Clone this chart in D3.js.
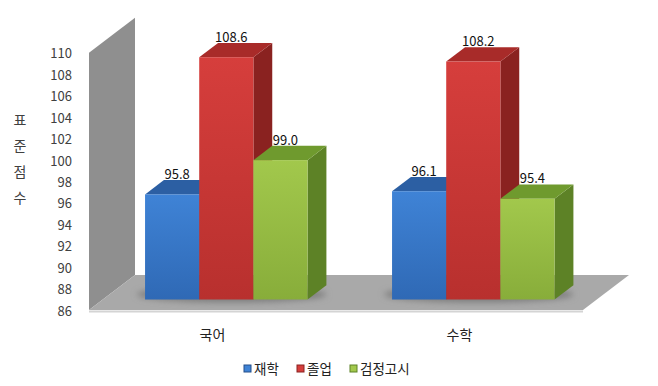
<!DOCTYPE html>
<html><head><meta charset="utf-8">
<script src="https://cdn.jsdelivr.net/npm/d3@7"></script>
<style>body{margin:0;background:#fff}svg{display:block}text{font-family:"Noto Sans CJK KR","Noto Sans",sans-serif}</style>
</head><body>
<svg id="c" width="658" height="386"></svg>
<script>
const categories = ["국어", "수학"];
const seriesNames = ["재학", "졸업", "검정고시"];
const values = {
  "재학": [95.8, 96.1],
  "졸업": [108.6, 108.2],
  "검정고시": [99.0, 95.4]
};
const tickValues = [86, 88, 90, 92, 94, 96, 98, 100, 102, 104, 106, 108, 110];
const yTitle = ["표", "준", "점", "수"];

const colors = {
  "재학": {front: ["#3f83d6", "#2f69b5"], top: "#2c5fa3", side: "#244f8a"},
  "졸업": {front: ["#d63e3c", "#b8302e"], top: "#a82b29", side: "#8a2220"},
  "검정고시": {front: ["#a2c84c", "#88ad3a"], top: "#6f9a2e", side: "#5d8226"}
};

const svg = d3.select("#c");
const defs = svg.append("defs");
seriesNames.forEach((s, i) => {
  const g = defs.append("linearGradient").attr("id", "g" + i).attr("x1", 0).attr("y1", 0).attr("x2", 0).attr("y2", 1);
  g.append("stop").attr("offset", 0).attr("stop-color", colors[s].front[0]);
  g.append("stop").attr("offset", 1).attr("stop-color", colors[s].front[1]);
});
const sh = defs.append("filter").attr("id", "blur").attr("x", -0.2).attr("y", -0.5).attr("width", 1.4).attr("height", 2);
sh.append("feGaussianBlur").attr("stdDeviation", 3);

const x0 = 89, x1 = 583, yBase = 310;
const D = [46, -35];
const y = d3.scaleLinear().domain([86, 110]).range([yBase, yBase - 24 * 10.72]);
const xb = d3.scaleBand().domain(categories).range([x0, x1]);
const xs = d3.scaleBand().domain(seriesNames).range([0, xb.bandwidth()]).paddingOuter(0.78);

const pt = (p) => p.map(q => q.join(",")).join(" ");

// wall
const yTop = y(110);
svg.append("polygon").attr("points", pt([[x0, yTop], [x0 + D[0], yTop + D[1]], [x0 + D[0], yBase + D[1]], [x0, yBase]])).attr("fill", "#8f8f8f");
// floor
svg.append("polygon").attr("points", pt([[x0, yBase], [x1, yBase], [x1 + D[0], yBase + D[1]], [x0 + D[0], yBase + D[1]]])).attr("fill", "#a9a9a9");
svg.append("line").attr("x1", x0).attr("x2", x1).attr("y1", yBase + 1.5).attr("y2", yBase + 1.5).attr("stroke", "#d4d4d4").attr("stroke-width", 2);

// axis
const axis = d3.axisLeft(y).tickValues(tickValues).tickSize(0).tickPadding(3).tickFormat(d3.format("d"));
const ag = svg.append("g").attr("transform", "translate(75,1)").call(axis);
ag.select(".domain").remove();
ag.selectAll("text").attr("font-size", 13).attr("fill", "#404040");

// y title
svg.append("g").selectAll("text").data(yTitle).join("text")
  .attr("x", 20).attr("y", (d, i) => 125 + i * 26).attr("text-anchor", "middle")
  .attr("font-size", 14).attr("fill", "#404040").text(d => d);

// bars
const d0 = 0.3, dd = 0.41;
const ox = D[0] * d0, oy = D[1] * d0;
const bx = D[0] * dd, by = D[1] * dd;
const bars = [];
categories.forEach((c, ci) => seriesNames.forEach((s, si) => bars.push({c, s, si, v: values[s][ci]})));

const bg = svg.append("g");
// shadows
categories.forEach(c => {
  const xl = xb(c) + xs(seriesNames[0]) + ox, xr = xb(c) + xs(seriesNames[2]) + xs.bandwidth() + ox + bx;
  bg.append("ellipse").attr("cx", (xl + xr) / 2 - 4).attr("cy", yBase + oy + by / 2 + 2).attr("rx", (xr - xl) / 2 + 4).attr("ry", 8).attr("fill", "#7d7d7d").attr("filter", "url(#blur)");
});

bars.forEach(b => {
  const xl = xb(b.c) + xs(b.s) + ox, w = xs.bandwidth();
  const yt = y(b.v) + oy, ybt = yBase + oy;
  const col = colors[b.s];
  const g = bg.append("g");
  g.append("polygon").attr("points", pt([[xl + w, yt], [xl + w + bx, yt + by], [xl + w + bx, ybt + by], [xl + w, ybt]])).attr("fill", col.side);
  g.append("polygon").attr("points", pt([[xl, yt], [xl + bx, yt + by], [xl + w + bx, yt + by], [xl + w, yt]])).attr("fill", col.top);
  g.append("rect").attr("x", xl).attr("y", yt).attr("width", w).attr("height", ybt - yt).attr("fill", "url(#g" + b.si + ")");
  g.append("text").attr("x", xl + w / 2 + 5).attr("y", yt + by - 1).attr("text-anchor", "middle")
    .attr("font-size", 13).attr("fill", "#111").text(b.v.toFixed(1));
});

// category labels
svg.append("g").selectAll("text").data(categories).join("text")
  .attr("x", d => xb(d) + xb.bandwidth() / 2).attr("y", 340).attr("text-anchor", "middle")
  .attr("font-size", 14).attr("fill", "#222").text(d => d);

// legend
const legX = [244, 297, 350];
const lg = svg.append("g");
seriesNames.forEach((s, i) => {
  lg.append("rect").attr("x", legX[i]).attr("y", 365).attr("width", 7).attr("height", 7).attr("fill", colors[s].front[0]).attr("stroke", colors[s].side).attr("stroke-width", 1);
  lg.append("text").attr("x", legX[i] + 10).attr("y", 373.5).attr("font-size", 13.5).attr("fill", "#222").text(s);
});
</script>
</body></html>
